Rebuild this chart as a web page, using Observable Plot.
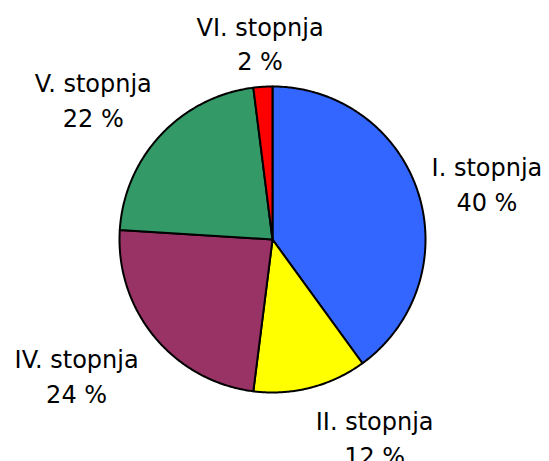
<!DOCTYPE html>
<html><head><meta charset="utf-8">
<script src="https://cdn.jsdelivr.net/npm/d3@7"></script>
<script src="https://cdn.jsdelivr.net/npm/@observablehq/plot@0.6"></script>
<style>body{margin:0;background:#fff}</style>
</head><body><div id="chart"></div>
<script>
const categories = ["I. stopnja", "II. stopnja", "IV. stopnja", "V. stopnja", "VI. stopnja"];
const values = [40, 12, 24, 22, 2];
const colors = ["#3366FF", "#FFFF00", "#993366", "#339966", "#FF0000"];
const percentLabels = ["40 %", "12 %", "24 %", "22 %", "2 %"];

// layout
const W = 549, H = 461, CX = 272, CY = 239, R = 153;
const labelAngleShift = [3, -13, 5, -5, 0]; // degrees
const labelRadius = [222, 222, 238, 228, 198];

const pie = d3.pie().sort(null).value(d => d)(values);
const pts = [];
pie.forEach((s, i) => {
  const n = Math.max(4, Math.ceil((s.endAngle - s.startAngle) / 0.01));
  pts.push({k: i, x: 0, y: 0});
  for (let j = 0; j <= n; j++) {
    const a = s.startAngle + (s.endAngle - s.startAngle) * j / n;
    pts.push({k: i, x: R * Math.sin(a), y: R * Math.cos(a)});
  }
  pts.push({k: i, x: 0, y: 0});
});
const labels = pie.map((s, i) => {
  const a = (s.startAngle + s.endAngle) / 2 + labelAngleShift[i] * Math.PI / 180;
  return {x: labelRadius[i] * Math.sin(a), y: labelRadius[i] * Math.cos(a), t: categories[i] + "\n" + percentLabels[i]};
});

const plot = Plot.plot({
  width: W, height: H, margin: 0,
  x: {domain: [-CX, W - CX], range: [0, W], axis: null},
  y: {domain: [CY, CY - H], range: [0, H], axis: null},
  style: {background: "#fff", fontFamily: "DejaVu Sans, Verdana, sans-serif"},
  marks: [
    Plot.line(pts, {x: "x", y: "y", z: "k", fill: d => colors[d.k], stroke: "#000", strokeWidth: 2, strokeLinejoin: "round", curve: "linear"}),
    Plot.text(labels, {x: "x", y: "y", text: "t", fontSize: 24, lineHeight: 1.45, fill: "#000", textAnchor: "middle"})
  ]
});
document.getElementById("chart").appendChild(plot);
</script></body></html>
